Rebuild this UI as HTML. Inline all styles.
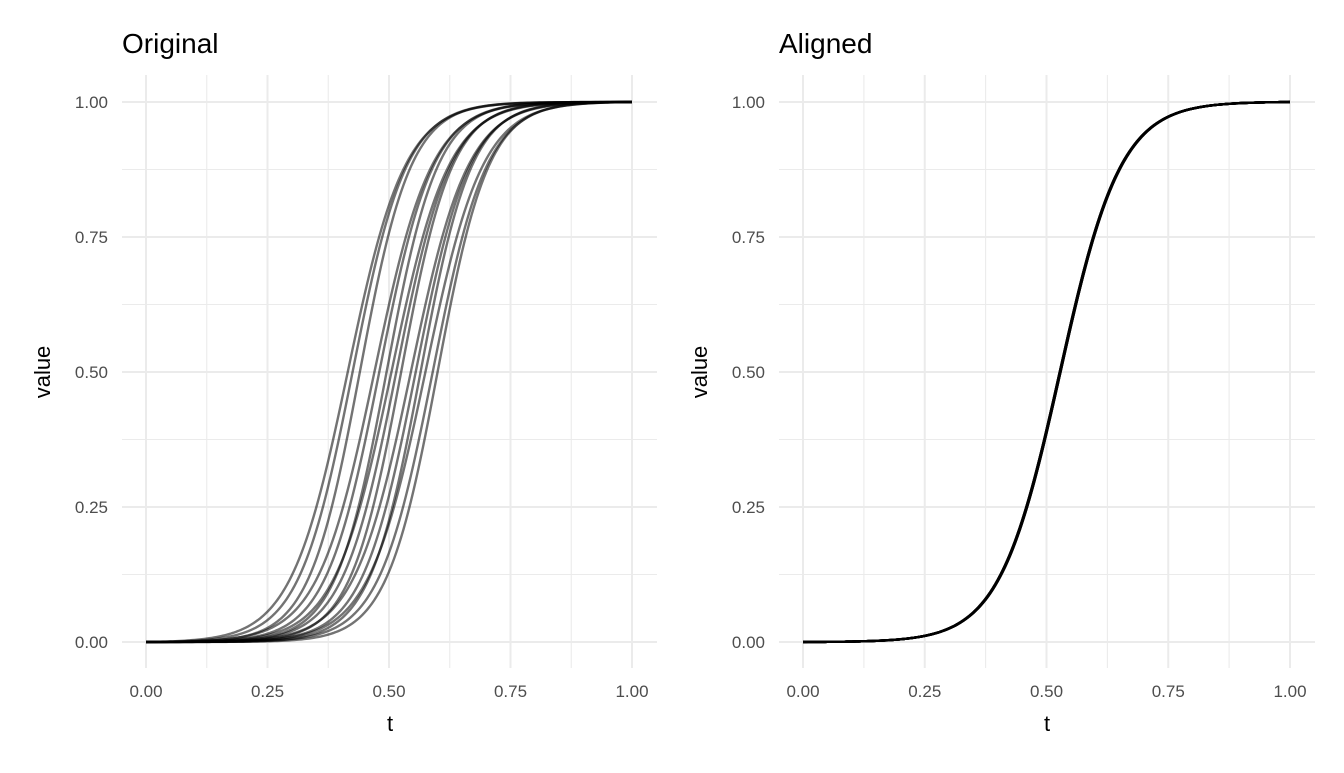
<!DOCTYPE html>
<html><head><meta charset="utf-8"><style>
body{margin:0;background:#fff;}
svg text{font-family:"Liberation Sans",sans-serif;}
</style></head><body>
<svg id="s" width="1344" height="768" xmlns="http://www.w3.org/2000/svg">
<rect width="1344" height="768" fill="#fff"/>
<g id="g"></g>
<text x="122" y="53" font-size="28">Original</text>
<text x="779" y="53" font-size="28">Aligned</text>
<text x="390" y="731" font-size="22" text-anchor="middle">t</text>
<text x="1047" y="731" font-size="22" text-anchor="middle">t</text>
<text transform="translate(50,372) rotate(-90)" font-size="22" text-anchor="middle">value</text>
<text transform="translate(707,372) rotate(-90)" font-size="22" text-anchor="middle">value</text>
</svg>
<script>
var g=document.getElementById('g'),h='';
function panel(x0,x1,left){
 var y0=642,y1=102,L=left,R=x1+25;
 for(var i=0;i<=8;i++){var v=i/8,w=i%2?1.1:2;
  var x=x0+(x1-x0)*v,y=y0+(y1-y0)*v;
  h+='<line x1="'+x+'" x2="'+x+'" y1="75" y2="668" stroke="#ebebeb" stroke-width="'+w+'"/>';
  h+='<line x1="'+L+'" x2="'+R+'" y1="'+y+'" y2="'+y+'" stroke="#ebebeb" stroke-width="'+w+'"/>';
  if(i%2==0){var lab=(v).toFixed(2);
   h+='<text x="'+x+'" y="697" font-size="17" fill="#4d4d4d" text-anchor="middle">'+lab+'</text>';
   h+='<text x="'+(x0-38)+'" y="'+(y+6)+'" font-size="17" fill="#4d4d4d" text-anchor="end">'+lab+'</text>';}
 }
}
function curve(x0,x1,c,k,op){
 var y0=642,y1=102,f=function(t){return 1/(1+Math.exp(-k*(t-c)));},a=f(0),b=f(1),d='';
 for(var i=0;i<=200;i++){var t=i/200,v=(f(t)-a)/(b-a);
  d+=(i?'L':'M')+(x0+(x1-x0)*t).toFixed(2)+','+(y0+(y1-y0)*v).toFixed(2);}
 h+='<path d="'+d+'" fill="none" stroke="#000" stroke-opacity="'+op+'" stroke-width="2.4"/>';
}
panel(146,632,122);panel(803,1290,779);
var cs=[0.415,0.425,0.44,0.47,0.48,0.495,0.505,0.515,0.525,0.545,0.555,0.565,0.575,0.59,0.60];
cs.forEach(function(c,i){curve(146,632,c,17+(i%3),0.55);});
for(var i=0;i<15;i++)curve(803,1290,0.528+(i%3-1)*0.0008,16,0.55);
g.innerHTML=h;
</script>
</body></html>
